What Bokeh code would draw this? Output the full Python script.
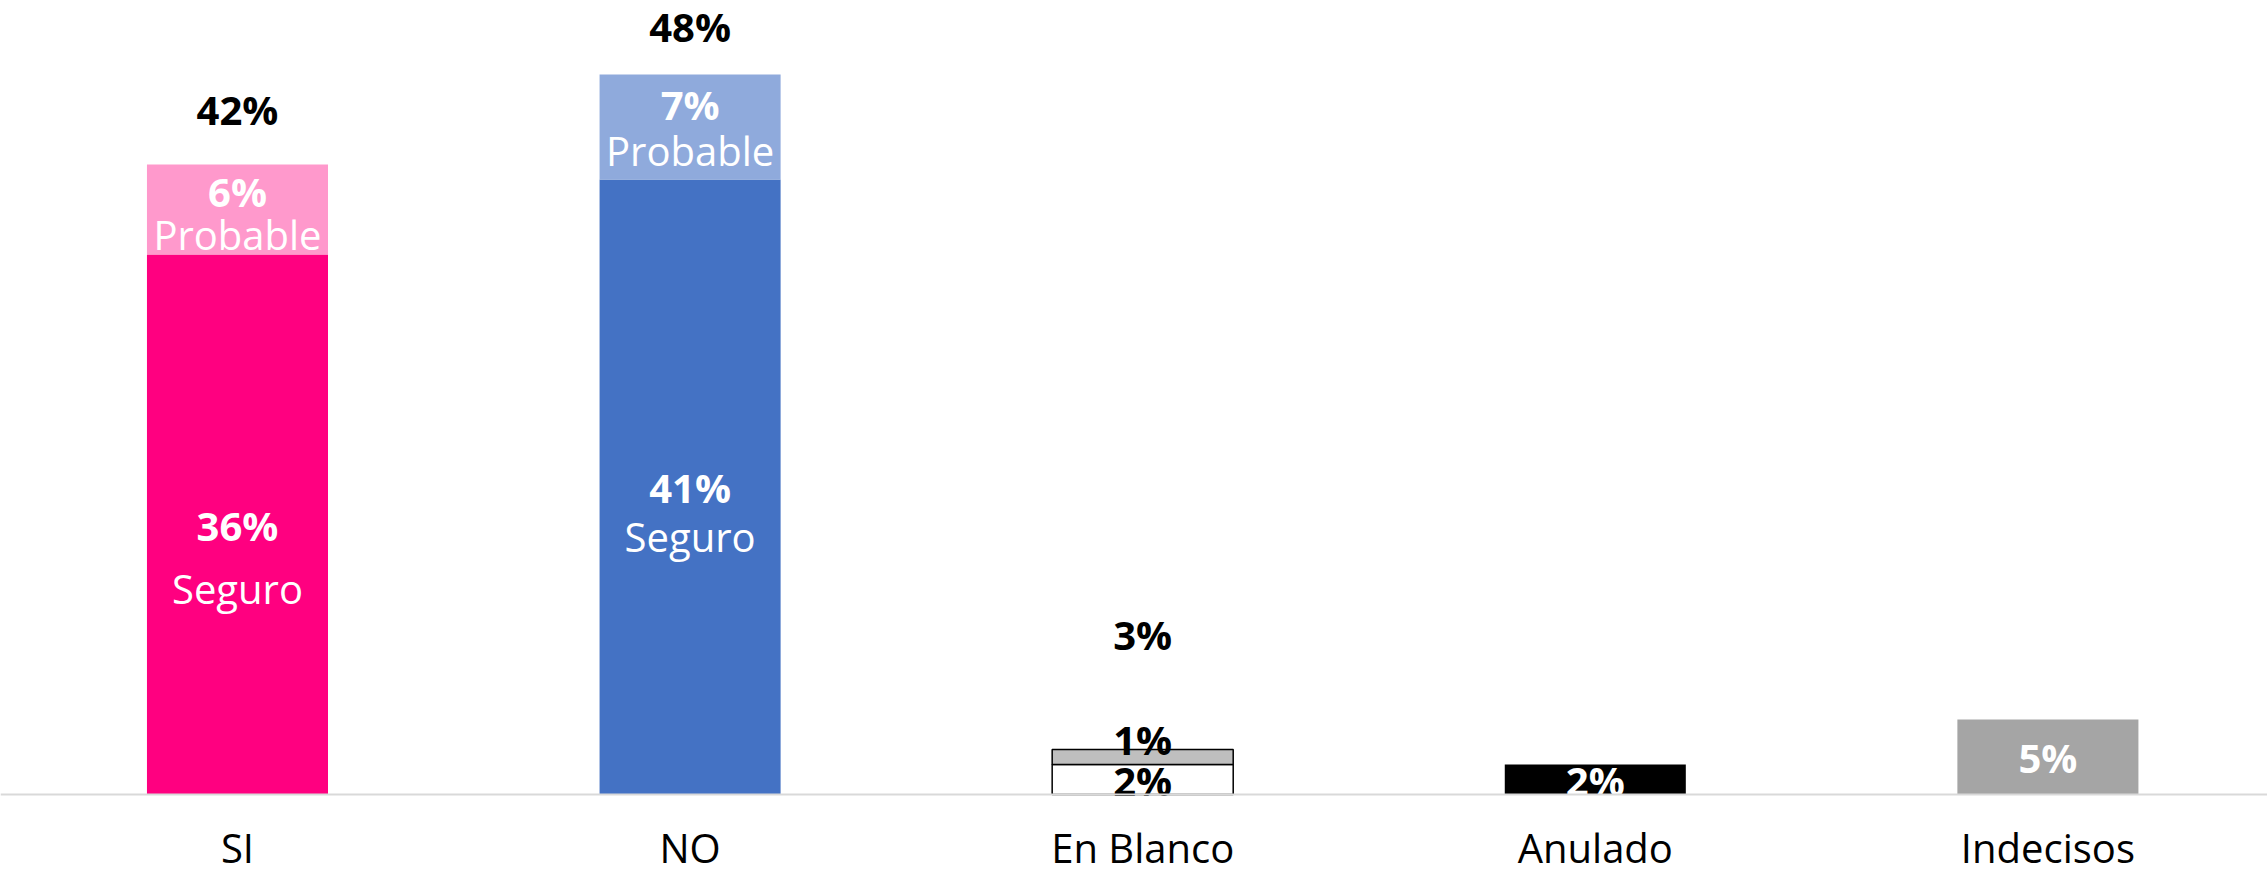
from bokeh.plotting import figure
from bokeh.models import ColumnDataSource, Range1d, Span
from bokeh.core.properties import value
from bokeh.embed import file_html
from bokeh.resources import INLINE

# ---------------- data ----------------
categories = ["SI", "NO", "En Blanco", "Anulado", "Indecisos"]
seguro = [36, 41, 2, 2, 5]          # lower segment (%)
probable = [6, 7, 1, 0, 0]          # upper segment (%)
seguro_words = ["Seguro", "Seguro", "", "", ""]
probable_words = ["Probable", "Probable", "", "", ""]
show_total = [True, True, True, False, False]

# ---------------- styles ----------------
FONT = value("Open Sans")
FS = "40px"
base_fill = ["#FF0080", "#4472C4", "#FFFFFF", "#000000", "#A5A5A5"]
top_fill = ["#FF99CC", "#8FAADC", "#BFBFBF", "#FFFFFF", "#FFFFFF"]
outline_alpha = [0, 0, 1, 0, 0]
base_text_color = ["white", "white", "black", "white", "white"]
top_text_color = ["white", "white", "black", "white", "white"]
# label placement (screen px, positive = down)
base_pct_off = 1
base_word_off = [64, 50, 0, 0, 0]
top_pct_off = [-18, -22, -17, 0, 0]
top_word_off = [25, 24, 0, 0, 0]
total_off = [-55, -48, -115, 0, 0]
cat_off = 53

x = list(range(len(categories)))
top_end = [s + p for s, p in zip(seguro, probable)]

p = figure(width=2267, height=876, x_range=Range1d(-0.5236, 4.4852),
           y_range=Range1d(-5.467, 52.933), output_backend="svg",
           toolbar_location=None, x_axis_type=None, y_axis_type=None,
           min_border=0)
p.outline_line_color = None
p.grid.visible = False
p.background_fill_color = "white"

base_src = ColumnDataSource(dict(x=x, b=[0] * len(x), t=seguro, fill=base_fill,
                                 la=outline_alpha))
p.vbar(x="x", bottom="b", top="t", width=0.4, source=base_src, fill_color="fill",
       line_color="black", line_alpha="la", line_width=1.5)

ti = [i for i in x if probable[i] > 0]
top_src = ColumnDataSource(dict(x=[x[i] for i in ti], b=[seguro[i] for i in ti],
                                t=[top_end[i] for i in ti],
                                fill=[top_fill[i] for i in ti],
                                la=[outline_alpha[i] for i in ti]))
p.vbar(x="x", bottom="b", top="t", width=0.4, source=top_src, fill_color="fill",
       line_color="black", line_alpha="la", line_width=1.5)

# base segment labels
bl = ColumnDataSource(dict(x=x, y=[s / 2 for s in seguro],
                           txt=[f"{s}%" for s in seguro], c=base_text_color))
p.text(x="x", y="y", text="txt", source=bl, text_color="c", text_font=FONT,
       text_font_size=FS, text_font_style="bold", text_align="center",
       text_baseline="alphabetic", y_offset=base_pct_off)

wi = [i for i in x if seguro_words[i]]
bw = ColumnDataSource(dict(x=[x[i] for i in wi], y=[seguro[i] / 2 for i in wi],
                           txt=[seguro_words[i] for i in wi],
                           off=[base_word_off[i] for i in wi]))
p.text(x="x", y="y", text="txt", source=bw, text_color="white", text_font=FONT,
       text_font_size=FS, text_align="center", text_baseline="alphabetic",
       y_offset="off")

# top segment labels
tl = ColumnDataSource(dict(x=[x[i] for i in ti],
                           y=[seguro[i] + probable[i] / 2 for i in ti],
                           txt=[f"{probable[i]}%" for i in ti],
                           c=[top_text_color[i] for i in ti],
                           off=[top_pct_off[i] for i in ti]))
p.text(x="x", y="y", text="txt", source=tl, text_color="c", text_font=FONT,
       text_font_size=FS, text_font_style="bold", text_align="center",
       text_baseline="alphabetic", y_offset="off")

pi = [i for i in x if probable_words[i]]
tw = ColumnDataSource(dict(x=[x[i] for i in pi],
                           y=[seguro[i] + probable[i] / 2 for i in pi],
                           txt=[probable_words[i] for i in pi],
                           off=[top_word_off[i] for i in pi]))
p.text(x="x", y="y", text="txt", source=tw, text_color="white", text_font=FONT,
       text_font_size=FS, text_align="center", text_baseline="alphabetic",
       y_offset="off")

# totals
oi = [i for i in x if show_total[i]]
tot = ColumnDataSource(dict(x=[x[i] for i in oi], y=[top_end[i] for i in oi],
                            txt=[f"{top_end[i]}%" for i in oi],
                            off=[total_off[i] for i in oi]))
p.text(x="x", y="y", text="txt", source=tot, text_color="black", text_font=FONT,
       text_font_size=FS, text_font_style="bold", text_align="center",
       text_baseline="alphabetic", y_offset="off")

# category labels
cl = ColumnDataSource(dict(x=x, y=[0] * len(x), txt=categories))
p.text(x="x", y="y", text="txt", source=cl, text_color="black", text_font=FONT,
       text_font_size=FS, text_align="center", text_baseline="alphabetic",
       y_offset=cat_off)

p.add_layout(Span(location=0, dimension="width", line_color="#D9D9D9", line_width=2))

open("out.html", "w").write(file_html(p, INLINE))
